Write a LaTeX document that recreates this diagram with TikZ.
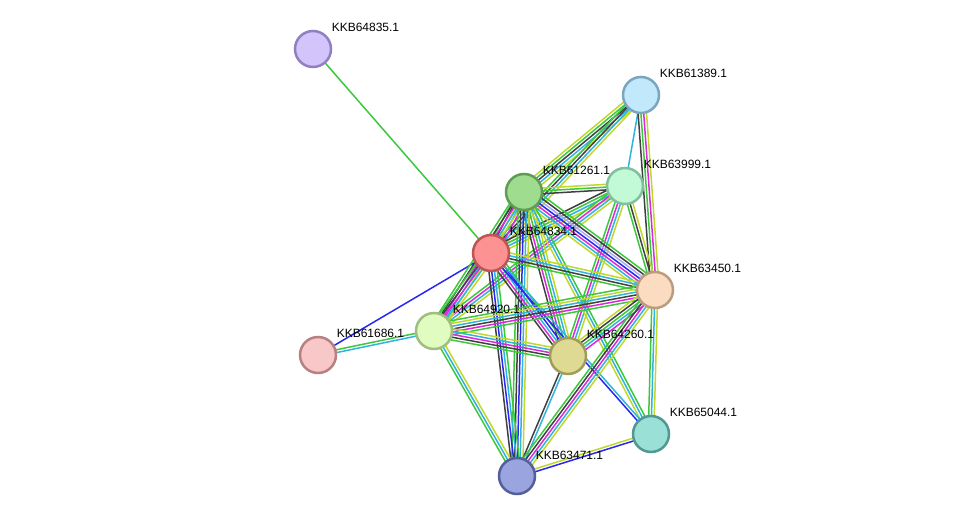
\documentclass[tikz,border=0pt]{standalone}
\usepackage{fontspec}
\setmainfont{Liberation Sans}
\usepackage{xcolor}
\usetikzlibrary{calc,backgrounds}

\definecolor{grn}{HTML}{3CC83C}
\definecolor{cyn}{HTML}{30B4DC}
\definecolor{ylw}{HTML}{C0D82C}
\definecolor{blk}{HTML}{404040}
\definecolor{mag}{HTML}{DC28DC}
\definecolor{blu}{HTML}{2828F0}
\definecolor{hom}{HTML}{A8A8F8}

% bundle of parallel lines, one per evidence colour
\newcommand{\link}[3]{%
  \gdef\nlines{0}%
  \foreach \col in {#3} {\xdef\nlines{\the\numexpr\nlines+1\relax}}%
  \foreach \col [count=\i] in {#3} {%
    \pgfmathsetmacro{\off}{(\i-(\nlines+1)/2)*2.8}%
    \draw[\col] ($(#1)!\off pt!90:(#2)$) -- ($(#2)!\off pt!-90:(#1)$);
  }}

\begin{document}
\begin{tikzpicture}[x=1pt,y=-1pt,
  prot/.style={circle,minimum size=36pt,inner sep=0pt,line width=2.5pt},
  lbl/.style={anchor=base west,inner sep=0pt,font=\fontsize{12}{14}\selectfont},
  every path/.style={line width=1.5pt}]
\useasboundingbox (0,0) rectangle (975,521);

\node[prot,fill={rgb,255:red,212;green,196;blue,252},draw={rgb,255:red,144;green,128;blue,192}] (p64835) at (313,49) {};
\node[prot,fill={rgb,255:red,194;green,232;blue,252},draw={rgb,255:red,124;green,166;blue,192}] (p61389) at (641,95) {};
\node[prot,fill={rgb,255:red,194;green,250;blue,216},draw={rgb,255:red,128;green,192;blue,156}] (p63999) at (625,186) {};
\node[prot,fill={rgb,255:red,160;green,220;blue,144},draw={rgb,255:red,96;green,156;blue,84}] (p61261) at (524,192) {};
\node[prot,fill={rgb,255:red,252;green,146;blue,146},draw={rgb,255:red,190;green,84;blue,84}] (p64834) at (491,253) {};
\node[prot,fill={rgb,255:red,252;green,220;blue,192},draw={rgb,255:red,186;green,156;blue,128}] (p63450) at (655,290) {};
\node[prot,fill={rgb,255:red,224;green,252;blue,192},draw={rgb,255:red,160;green,190;blue,126}] (p64920) at (434,331) {};
\node[prot,fill={rgb,255:red,248;green,200;blue,200},draw={rgb,255:red,184;green,128;blue,128}] (p61686) at (318,355) {};
\node[prot,fill={rgb,255:red,222;green,218;blue,148},draw={rgb,255:red,160;green,156;blue,90}] (p64260) at (568,356) {};
\node[prot,fill={rgb,255:red,154;green,224;blue,214},draw={rgb,255:red,80;green,152;blue,144}] (p65044) at (651,434) {};
\node[prot,fill={rgb,255:red,154;green,164;blue,222},draw={rgb,255:red,84;green,96;blue,156}] (p63471) at (517,476) {};

\node[lbl] (t64835) at ([shift={(18,-17)}]p64835) {KKB64835.1};
\node[lbl] (t61389) at ([shift={(18,-17)}]p61389) {KKB61389.1};
\node[lbl] (t63999) at ([shift={(18,-17)}]p63999) {KKB63999.1};
\node[lbl] (t61261) at ([shift={(18,-17)}]p61261) {KKB61261.1};
\node[lbl] (t64834) at ([shift={(18,-17)}]p64834) {KKB64834.1};
\node[lbl] (t63450) at ([shift={(18,-17)}]p63450) {KKB63450.1};
\node[lbl] (t64920) at ([shift={(18,-17)}]p64920) {KKB64920.1};
\node[lbl] (t61686) at ([shift={(18,-17)}]p61686) {KKB61686.1};
\node[lbl] (t64260) at ([shift={(18,-17)}]p64260) {KKB64260.1};
\node[lbl] (t65044) at ([shift={(18,-17)}]p65044) {KKB65044.1};
\node[lbl] (t63471) at ([shift={(18,-17)}]p63471) {KKB63471.1};

\begin{pgfonlayer}{background}
\link{p64835}{p64834}{grn}
\link{p61686}{p64834}{blu}
\link{p61686}{p64920}{cyn,grn}
\link{p61389}{p61261}{ylw,grn,blk,cyn,ylw}
\link{p61389}{p64834}{grn,blk,cyn,ylw}
\link{p61389}{p63999}{cyn}
\link{p61389}{p63450}{blk,grn,mag,ylw}
\link{p63999}{p61261}{ylw,grn,blk}
\link{p63999}{p64834}{blk,grn,cyn,ylw}
\link{p63999}{p64920}{grn,mag,cyn,ylw}
\link{p63999}{p64260}{grn,mag,cyn,ylw}
\link{p63999}{p63450}{grn,blk,ylw}
\link{p61261}{p64834}{grn,blk,ylw,cyn,mag}
\link{p61261}{p63450}{ylw,cyn,mag,blu,hom,blk,grn}
\link{p61261}{p64920}{grn,blk,mag,cyn,ylw}
\link{p61261}{p64260}{blk,mag,grn,cyn,ylw}
\link{p61261}{p63471}{grn,blk,blu,cyn,ylw}
\link{p61261}{p65044}{ylw,cyn,grn}
\link{p64834}{p64920}{grn,blk,mag,cyn,ylw}
\link{p64834}{p64260}{blk,mag,cyn,blu,grn}
\link{p64834}{p63471}{blk,blu,cyn,grn}
\link{p64834}{p63450}{grn,blk,cyn,ylw}
\link{p64834}{p65044}{blu,cyn}
\link{p64920}{p63450}{grn,mag,blk,cyn,ylw,grn}
\link{p64920}{p64260}{grn,blk,mag,cyn,ylw}
\link{p64920}{p63471}{grn,cyn,ylw}
\link{p64260}{p63450}{mag,cyn,grn,blk,ylw}
\link{p64260}{p63471}{blk,cyn}
\link{p63450}{p63471}{grn,blk,mag,cyn,ylw}
\link{p63450}{p65044}{grn,cyn,ylw}
\link{p63471}{p65044}{blu,ylw}
\end{pgfonlayer}
\end{tikzpicture}
\end{document}
